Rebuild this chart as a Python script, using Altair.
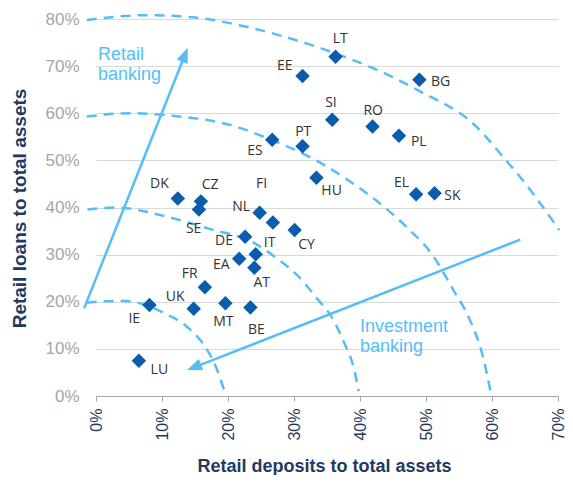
import math
import altair as alt
import pandas as pd

# ---------------- data (percent units) ----------------
countries = ["LT", "EE", "BG", "SI", "RO", "PL", "PT", "HU", "EL", "SK", "ES", "DK", "CZ",
             "SE", "FI", "NL", "CY", "DE", "IT", "EA", "AT", "FR", "UK", "MT", "BE", "IE", "LU"]
deposits = [36.3, 31.3, 49.0, 35.8, 41.9, 45.9, 31.3, 33.4, 48.5, 51.3, 26.7, 12.4, 15.9,
            15.6, 24.8, 26.8, 30.1, 22.6, 24.2, 21.7, 24.0, 16.5, 14.8, 19.6, 23.4, 8.1, 6.5]
loans = [72.0, 67.9, 67.1, 58.6, 57.2, 55.2, 53.0, 46.3, 42.8, 43.0, 54.4, 41.9, 41.3,
         39.6, 38.9, 36.8, 35.2, 33.8, 30.1, 29.1, 27.2, 23.1, 18.5, 19.7, 18.8, 19.3, 7.5]
# label centres (data units)
label_x = [37.0, 28.6, 52.2, 35.6, 42.0, 48.9, 31.4, 35.7, 46.3, 54.0, 24.1, 9.6, 17.3,
           14.8, 25.1, 22.0, 31.9, 19.4, 26.3, 19.0, 25.1, 14.2, 12.0, 19.3, 24.3, 5.8, 9.6]
label_y = [75.8, 70.1, 66.7, 62.1, 60.5, 54.0, 56.0, 43.6, 45.2, 42.5, 52.0, 44.9, 44.7,
           35.4, 44.9, 40.1, 32.0, 32.9, 32.5, 27.8, 23.9, 25.9, 21.0, 15.8, 14.1, 16.4, 5.5]

x_ticks = [0, 10, 20, 30, 40, 50, 60, 70]
y_ticks = [0, 10, 20, 30, 40, 50, 60, 70, 80]

# dashed guide arcs
arc1_x = [-1.4, 3.6, 7.1, 10.6, 13.6, 16.1, 18.1, 19.4]
arc1_y = [19.8, 20.2, 19.5, 17.4, 14.9, 11.3, 6.4, 1.3]
arc2_x = [-1.3, 3.0, 10.6, 17.6, 23.5, 27.6, 30.6, 33.6, 35.6, 37.6, 39.1, 39.8]
arc2_y = [39.6, 40.0, 38.1, 35.3, 32.8, 29.0, 25.5, 20.5, 17.0, 11.3, 5.7, 1.0]
arc3_x = [-1.4, 5.1, 12.6, 20.1, 26.5, 34.1, 38.1, 44.1, 47.1, 51.1, 54.1, 56.6, 58.6, 59.8]
arc3_y = [59.3, 60.0, 59.3, 57.6, 54.4, 49.4, 45.9, 39.6, 35.8, 29.7, 22.6, 16.3, 8.5, 0.8]
arc4_x = [-1.4, 7.6, 15.1, 22.6, 30.1, 37.6, 42.1, 48.6, 57.6, 62.0, 64.6, 67.6, 70.2]
arc4_y = [79.8, 80.8, 80.3, 78.4, 75.6, 72.0, 69.5, 65.0, 57.2, 50.2, 45.9, 40.3, 35.2]

# arrows: tail -> tip
arrow_names = ["retail", "investment"]
arrow_tail_x = [-1.8, 64.3]
arrow_tail_y = [18.6, 33.2]
arrow_tip_x = [13.9, 13.8]
arrow_tip_y = [73.9, 5.5]

notes = ["Retail\nbanking", "Investment\nbanking"]
note_x = [0.3, 40.0]
note_y = [74.3, 16.5]

# ---------------- layout / style ----------------
W, H = 462, 377
X_MAX, Y_MAX = 70, 80
BLUE = "#0B5CAD"
LIGHT = "#55BEF7"
NAVY = "#1F3A60"

sx = W / X_MAX
sy = H / Y_MAX

xs = alt.Scale(domain=[0, X_MAX], nice=False, zero=False)
ys = alt.Scale(domain=[0, Y_MAX], nice=False, zero=False)

x_axis = alt.Axis(values=x_ticks, labelExpr="datum.value + '%'", grid=False,
                  labelAngle=-90, labelFont="Liberation Sans", labelFontSize=16,
                  labelColor=NAVY, labelPadding=7, labelOffset=0,
                  domain=True, domainColor="#A6A6A6", domainWidth=1,
                  ticks=True, tickColor="#A6A6A6", tickSize=5,
                  titleFont="Liberation Sans", titleFontSize=18, titleFontWeight="bold",
                  titleColor=NAVY, titleX=228, titleY=75, titleBaseline="alphabetic")
y_axis = alt.Axis(values=y_ticks, labelExpr="datum.value + '%'", grid=True,
                  gridColor="#D9D9D9", gridWidth=1, domain=False, ticks=False,
                  labelFont="Liberation Sans", labelFontSize=17, labelColor="#A6A6A6",
                  labelPadding=17,
                  titleFont="Liberation Sans", titleFontSize=19, titleFontWeight="bold",
                  titleColor=NAVY, titleX=-71, titleY=189, titleAngle=-90,
                  titleBaseline="alphabetic", titleAlign="center")

X_TITLE = "Retail deposits to total assets"
Y_TITLE = "Retail loans to total assets"


def X(field="x"):
    return alt.X(f"{field}:Q", scale=xs, axis=x_axis, title=X_TITLE)


def Y(field="y"):
    return alt.Y(f"{field}:Q", scale=ys, axis=y_axis, title=Y_TITLE)


# arcs table
rows = []
for name, ax, ay in [("a1", arc1_x, arc1_y), ("a2", arc2_x, arc2_y),
                     ("a3", arc3_x, arc3_y), ("a4", arc4_x, arc4_y)]:
    for i, (px, py) in enumerate(zip(ax, ay)):
        rows.append({"arc": name, "i": i, "x": px, "y": py})
arcs_df = pd.DataFrame(rows)

# arrows table
arrow_rows, head_rows = [], []
for n, x0, y0, x1, y1 in zip(arrow_names, arrow_tail_x, arrow_tail_y, arrow_tip_x, arrow_tip_y):
    dxp = (x1 - x0) * sx
    dyp = -(y1 - y0) * sy
    L = math.hypot(dxp, dyp)
    ang = math.degrees(math.atan2(dxp, -dyp)) % 360
    back = 8.0
    ex = x1 - (dxp / L * back) / sx
    ey = y1 + (dyp / L * back) / sy
    arrow_rows.append({"name": n, "x": x0, "y": y0, "x2": ex, "y2": ey})
    head_rows.append({"name": n, "x": x1, "y": y1, "angle": ang})
arrows_df = pd.DataFrame(arrow_rows)
heads_df = pd.DataFrame(head_rows)

notes_df = pd.DataFrame({"text": notes, "x": note_x, "y": note_y})
pts_df = pd.DataFrame({"c": countries, "x": deposits, "y": loans})
lab_df = pd.DataFrame({"c": countries, "x": label_x, "y": label_y})

arcs = alt.Chart(arcs_df).mark_line(
    color=LIGHT, strokeWidth=2.5, strokeDash=[10, 7], interpolate="monotone"
).encode(x=X(), y=Y(), detail="arc:N", order="i:Q")

arrow_lines = alt.Chart(arrows_df).mark_rule(color=LIGHT, strokeWidth=2.5).encode(
    x=X(), y=Y(), x2="x2:Q", y2="y2:Q")

arrow_heads = alt.Chart(heads_df).mark_point(
    shape="M0,0L-0.4,1L0.4,1Z", filled=True, fill=LIGHT, color=LIGHT,
    opacity=1, size=900, strokeWidth=0
).encode(x=X(), y=Y(), angle=alt.Angle("angle:Q", scale=None))

note_text = alt.Chart(notes_df).mark_text(
    align="left", baseline="top", lineBreak="\n", lineHeight=20,
    font="Liberation Sans", fontSize=18, color=LIGHT
).encode(x=X(), y=Y(), text="text:N")

points = alt.Chart(pts_df).mark_point(
    shape="diamond", filled=True, color=BLUE, opacity=1, size=210
).encode(x=X(), y=Y())

labels = alt.Chart(lab_df).mark_text(
    align="center", baseline="middle", font="Open Sans", fontSize=14, color="#333333"
).encode(x=X(), y=Y(), text="c:N")

chart = alt.layer(arcs, arrow_lines, arrow_heads, note_text, points, labels).properties(
    width=W, height=H,
    autosize=alt.AutoSizeParams(type="none"),
    padding={"left": 88, "top": 11, "right": 7, "bottom": 79},
    background="white",
).configure_view(stroke=None)

chart.save("out.html", embed_options={"renderer": "svg", "actions": False})
